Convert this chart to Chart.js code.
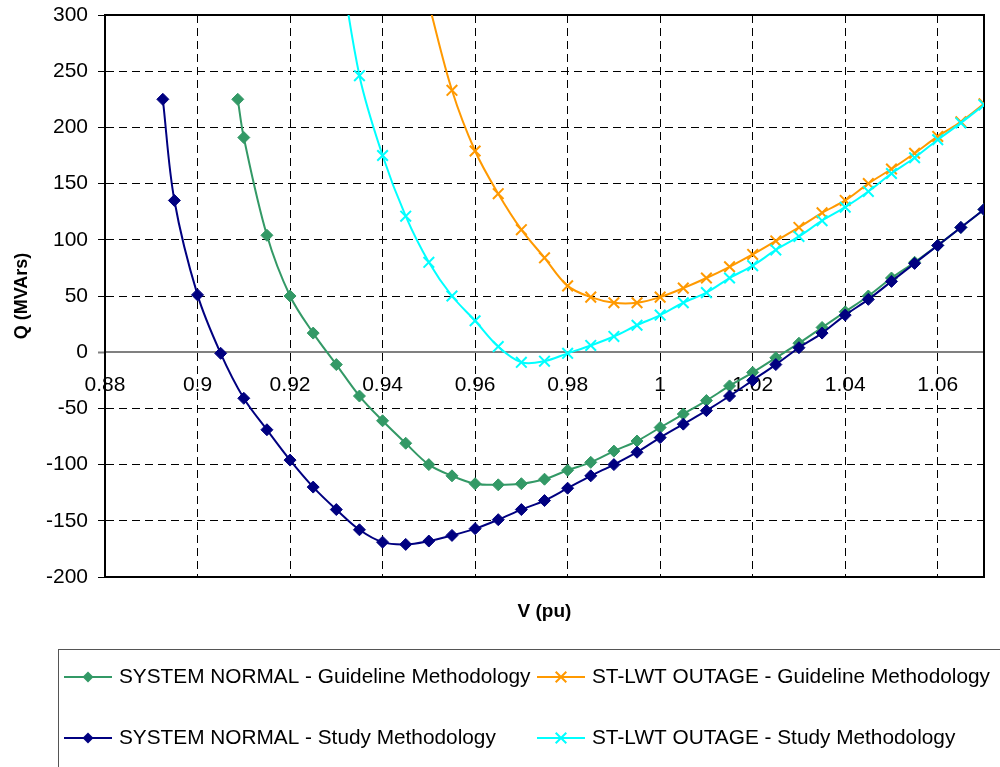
<!DOCTYPE html>
<html>
<head>
<meta charset="utf-8">
<script src="https://cdn.jsdelivr.net/npm/chart.js@4.4.1/dist/chart.umd.min.js"></script>
<style>
  html, body { margin: 0; padding: 0; background: #fff; }
  canvas { display: block; }
</style>
</head>
<body>
<canvas id="qv" width="1000" height="767"></canvas>
<script>
// Q-V curves: reactive power margin versus bus voltage

const vTicks = [0.88, 0.9, 0.92, 0.94, 0.96, 0.98, 1, 1.02, 1.04, 1.06];
const qTicks = [300, 250, 200, 150, 100, 50, 0, -50, -100, -150, -200];

const seriesNames = [
  'SYSTEM NORMAL - Guideline Methodology',
  'ST-LWT OUTAGE - Guideline Methodology',
  'SYSTEM NORMAL - Study Methodology',
  'ST-LWT OUTAGE - Study Methodology'
];

// SYSTEM NORMAL - Guideline Methodology
const snGuideV = [0.9087, 0.91, 0.915, 0.92, 0.925, 0.93, 0.935, 0.94, 0.945, 0.95, 0.955, 0.96, 0.965,
  0.97, 0.975, 0.98, 0.985, 0.99, 0.995, 1.0, 1.005, 1.01, 1.015, 1.02, 1.025, 1.03, 1.035, 1.04,
  1.045, 1.05, 1.055, 1.06, 1.065, 1.07];
const snGuideQ = [225, 191, 104, 50, 17, -11, -39, -61, -81, -100, -110, -117, -118,
  -117, -113, -105, -98, -88, -79, -67, -55, -43, -30, -18, -5, 8, 22, 36,
  50, 66, 80, 95, 111, 127];

// ST-LWT OUTAGE - Guideline Methodology
const outGuideV = [0.95, 0.955, 0.96, 0.965, 0.97, 0.975, 0.98, 0.985, 0.99, 0.995, 1.0, 1.005, 1.01,
  1.015, 1.02, 1.025, 1.03, 1.035, 1.04, 1.045, 1.05, 1.055, 1.06, 1.065, 1.07];
const outGuideQ = [310, 233, 179, 141, 109, 84, 59, 49, 44, 44, 49, 57, 66,
  76, 87, 99, 111, 124, 135, 150, 163, 177, 192, 205, 221];

// SYSTEM NORMAL - Study Methodology
const snStudyV = [0.8925, 0.895, 0.9, 0.905, 0.91, 0.915, 0.92, 0.925, 0.93, 0.935, 0.94, 0.945, 0.95,
  0.955, 0.96, 0.965, 0.97, 0.975, 0.98, 0.985, 0.99, 0.995, 1.0, 1.005, 1.01, 1.015, 1.02, 1.025,
  1.03, 1.035, 1.04, 1.045, 1.05, 1.055, 1.06, 1.065, 1.07];
const snStudyQ = [225, 135, 51, -1, -41, -69, -96, -120, -140, -158, -169, -171, -168,
  -163, -157, -149, -140, -132, -121, -110, -100, -89, -76, -64, -52, -39, -25, -11,
  4, 17, 33, 47, 63, 79, 95, 111, 127];

// ST-LWT OUTAGE - Study Methodology
const outStudyV = [0.93, 0.935, 0.94, 0.945, 0.95, 0.955, 0.96, 0.965, 0.97, 0.975, 0.98, 0.985, 0.99,
  0.995, 1.0, 1.005, 1.01, 1.015, 1.02, 1.025, 1.03, 1.035, 1.04, 1.045, 1.05, 1.055, 1.06,
  1.065, 1.07];
const outStudyQ = [370, 246, 175, 121, 80, 50, 28, 5, -9, -8, -1, 6, 14,
  24, 33, 44, 53, 66, 77, 91, 103, 117, 129, 143, 159, 173, 189,
  204, 220];

const FONT = "'Liberation Sans', Arial, sans-serif";

function pairs(xs, ys) {
  return xs.map((x, i) => ({ x: x, y: ys[i] }));
}

function series(name, xs, ys, color, style, order) {
  const diamond = style === 'rectRot';
  return {
    label: name,
    data: pairs(xs, ys),
    borderColor: color,
    backgroundColor: color,
    borderWidth: 2,
    pointStyle: style,
    pointRadius: diamond ? 6 : 7.5,
    pointBorderWidth: diamond ? 1 : 2,
    pointBackgroundColor: color,
    pointBorderColor: color,
    tension: 0.35,
    fill: false,
    order: order
  };
}

const datasets = [
  series(seriesNames[0], snGuideV, snGuideQ, '#339966', 'rectRot', 4),
  series(seriesNames[1], outGuideV, outGuideQ, '#FF9900', 'crossRot', 3),
  series(seriesNames[2], snStudyV, snStudyQ, '#000080', 'rectRot', 2),
  series(seriesNames[3], outStudyV, outStudyQ, '#00FFFF', 'crossRot', 1)
];

function setTicks(values) {
  return function (scale) {
    scale.ticks = values.map(v => ({ value: v }));
  };
}

// Top and right edges of the plot frame
const frame = {
  id: 'frame',
  beforeDatasetsDraw(chart) {
    const a = chart.chartArea;
    const ctx = chart.ctx;
    ctx.save();
    ctx.strokeStyle = '#000';
    ctx.lineWidth = 2;
    ctx.beginPath();
    ctx.moveTo(a.left, a.top);
    ctx.lineTo(a.right, a.top);
    ctx.lineTo(a.right, a.bottom);
    ctx.stroke();
    ctx.restore();
  }
};

function drawMarker(ctx, style, color, x, y) {
  ctx.save();
  ctx.strokeStyle = color;
  ctx.fillStyle = color;
  if (style === 'rectRot') {
    const r = 5.5;
    ctx.beginPath();
    ctx.moveTo(x, y - r);
    ctx.lineTo(x + r, y);
    ctx.lineTo(x, y + r);
    ctx.lineTo(x - r, y);
    ctx.closePath();
    ctx.fill();
  } else {
    const r = 5.3;
    ctx.lineWidth = 2;
    ctx.beginPath();
    ctx.moveTo(x - r, y - r);
    ctx.lineTo(x + r, y + r);
    ctx.moveTo(x + r, y - r);
    ctx.lineTo(x - r, y + r);
    ctx.stroke();
  }
  ctx.restore();
}

// Two-column legend in a framed box below the plot
const legendBox = {
  id: 'legendBox',
  afterDraw(chart) {
    const ctx = chart.ctx;
    ctx.save();
    ctx.strokeStyle = '#555';
    ctx.lineWidth = 1;
    ctx.strokeRect(58.5, 649.5, 1000, 200);
    const cols = [64, 537];
    const rows = [677, 738];
    chart.data.datasets.forEach((ds, i) => {
      const x0 = cols[i % 2];
      const y = rows[Math.floor(i / 2)];
      ctx.strokeStyle = ds.borderColor;
      ctx.lineWidth = 2;
      ctx.beginPath();
      ctx.moveTo(x0, y);
      ctx.lineTo(x0 + 48, y);
      ctx.stroke();
      drawMarker(ctx, ds.pointStyle, ds.borderColor, x0 + 24, y);
      ctx.fillStyle = '#000';
      ctx.font = '20.8px ' + FONT;
      ctx.textAlign = 'left';
      ctx.textBaseline = 'middle';
      ctx.fillText(ds.label, x0 + 55, y);
    });
    ctx.restore();
  }
};

new Chart(document.getElementById('qv'), {
  type: 'line',
  data: { datasets: datasets },
  plugins: [frame, legendBox],
  options: {
    responsive: false,
    devicePixelRatio: 1,
    animation: false,
    events: [],
    layout: { padding: { left: 0, top: 15, right: 16, bottom: 144 } },
    plugins: {
      legend: { display: false },
      tooltip: { enabled: false }
    },
    scales: {
      x: {
        type: 'linear',
        position: 'bottom',
        min: 0.88,
        max: 1.07,
        afterBuildTicks: setTicks(vTicks),
        afterFit(scale) { scale.height = 46; },
        ticks: { display: false },
        grid: { display: true, drawTicks: false, color: '#000', lineWidth: 1 },
        border: { display: true, color: '#000', width: 2, dash: [8, 5] },
        title: {
          display: true,
          text: 'V (pu)',
          color: '#000',
          font: { family: FONT, size: 19, weight: 'bold' },
          padding: { top: 0, bottom: 0 }
        }
      },
      xLabels: {
        type: 'linear',
        axis: 'x',
        position: { y: 0 },
        min: 0.88,
        max: 1.07,
        afterBuildTicks: setTicks(vTicks),
        ticks: {
          color: '#000',
          font: { family: FONT, size: 21 },
          padding: 20,
          maxRotation: 0,
          autoSkip: false,
          callback: (v) => String(v)
        },
        grid: { display: false, drawTicks: false },
        border: { display: true, color: '#808080', width: 2 }
      },
      y: {
        type: 'linear',
        min: -200,
        max: 300,
        afterBuildTicks: setTicks(qTicks),
        afterFit(scale) {
          scale.width = 105;
          scale.paddingTop = 0;
          scale.paddingBottom = 0;
        },
        ticks: {
          color: '#000',
          font: { family: FONT, size: 21 },
          padding: 10,
          autoSkip: false,
          callback: (v) => String(v)
        },
        grid: {
          display: true,
          drawTicks: true,
          tickLength: 7,
          lineWidth: 1,
          color: (c) => (c.tick && c.tick.value === 0 ? 'rgba(0,0,0,0)' : '#000'),
          tickColor: (c) => (c.tick && c.tick.value === 0 ? '#808080' : '#000'),
          tickWidth: (c) => (c.tick && c.tick.value === 0 ? 2 : 1)
        },
        border: { display: true, color: '#000', width: 2, dash: [8, 5] },
        title: {
          display: true,
          text: 'Q (MVArs)',
          color: '#000',
          font: { family: FONT, size: 18, weight: 'bold' },
          padding: { top: 11, bottom: 0 }
        }
      }
    }
  }
});
</script>
</body>
</html>
